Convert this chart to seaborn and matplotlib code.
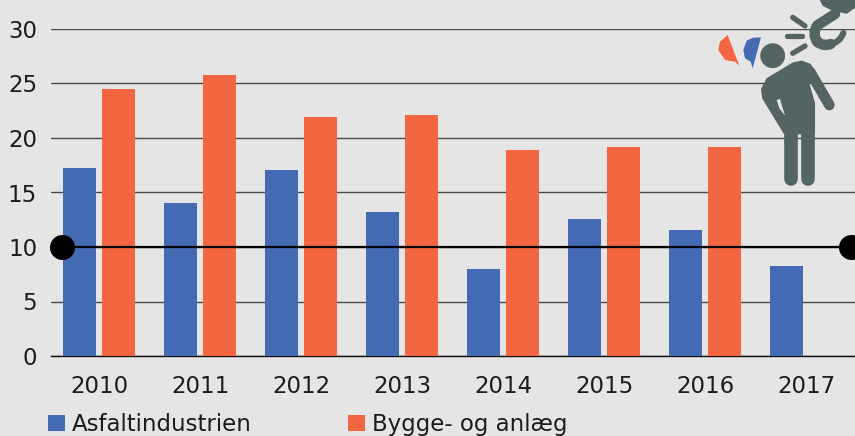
import numpy as np
import pandas as pd
import matplotlib
matplotlib.use('Agg')
import matplotlib.pyplot as plt
import seaborn as sns
from matplotlib.patches import Circle, Polygon, PathPatch
from matplotlib.path import Path

years = ['2010', '2011', '2012', '2013', '2014', '2015', '2016', '2017']
asfalt = [17.25, 14.0, 17.05, 13.2, 8.0, 12.6, 11.55, 8.25]
bygge = [24.5, 25.8, 21.9, 22.1, 18.9, 19.2, 19.2, np.nan]
series_names = ['Asfaltindustrien', 'Bygge- og anlæg']
y_ticks = [0, 5, 10, 15, 20, 25, 30]
limit_value = 10

BG = '#e5e5e5'
BLUE = '#446ab3'
ORANGE = '#f46641'
ICON = '#536463'
TEXT = '#1c1c1c'

sns.set_theme(style='white')
plt.rcParams['font.family'] = ['DejaVu Sans']

df = pd.DataFrame({'year': years * 2,
                   'value': asfalt + bygge,
                   'series': [series_names[0]] * 8 + [series_names[1]] * 8})

fig = plt.figure(figsize=(8.55, 4.36), dpi=100, facecolor=BG)
ax = fig.add_axes([51 / 855, 1 - 356 / 436, 804 / 855, 327 / 436], facecolor=BG)

sns.barplot(data=df, x='year', y='value', hue='series', ax=ax,
            palette=[BLUE, ORANGE], width=0.772, gap=0.14, saturation=1,
            errorbar=None, zorder=3, linewidth=0)

ax.set_xlim(-48 / 101, 756 / 101)
ax.set_ylim(0, 30)
ax.set_xlabel('')
ax.set_ylabel('')
ax.set_yticks(y_ticks)
ax.grid(axis='y', color='#4a4a4a', lw=1, zorder=1)
ax.set_axisbelow(True)
for name, spine in ax.spines.items():
    spine.set_visible(name == 'bottom')
ax.spines['bottom'].set_color('#111111')
ax.spines['bottom'].set_linewidth(1)
ax.tick_params(axis='x', length=0, pad=14, labelsize=16.5, labelcolor=TEXT)
ax.tick_params(axis='y', length=0, pad=10, labelsize=16.5, labelcolor=TEXT)

# limit line with round end points
ax.plot([-37 / 101, 752 / 101], [limit_value, limit_value], color='black', lw=1.6,
        marker='o', ms=17, clip_on=False, zorder=5)

handles, labels = ax.get_legend_handles_labels()
ax.legend(handles, labels, ncol=2, loc='lower left', bbox_to_anchor=(48 / 855, 0),
          bbox_transform=fig.transFigure, frameon=False, fontsize=16.5, labelcolor=TEXT,
          handlelength=0.74, handleheight=0.74, handletextpad=0.3, columnspacing=4.2,
          borderpad=0, borderaxespad=0)

# icon, drawn on an overlay in pixel units of the zoomed crop
ov = fig.add_axes([0, 0, 1, 1], facecolor='none')
ov.set_xlim(0, 855)
ov.set_ylim(436, 0)
ov.axis('off')


def pts(coords):
    return [(680 + x / 3, y / 3) for x, y in coords]


def stroke(coords, lw):
    xs, ys = zip(*pts(coords))
    ov.plot(xs, ys, color=ICON, lw=lw, solid_capstyle='round')


torso = [(246, 268), (262, 237), (340, 190), (365, 185), (390, 194), (408, 225), (385, 250),
         (402, 310), (402, 400), (314, 400), (250, 295)]
hole = [(290, 300), (300, 297), (315, 347), (298, 325)]
orange_bubble = [(143, 105), (178, 197), (165, 185), (135, 180), (115, 150), (120, 125)]
blue_bubble = [(243, 112), (218, 205), (212, 185), (195, 175), (190, 150), (200, 122), (220, 113)]
hook_block = [(423, 0), (525, 0), (525, 20), (500, 38), (460, 30), (430, 15)]

ov.add_patch(Polygon(pts(torso), fc=ICON, ec=ICON, lw=1.5, joinstyle='round'))
stroke([(333, 385), (333, 537)], 9.8)
stroke([(384, 385), (384, 537)], 9.8)
stroke([(390, 215), (448, 315)], 7.7)
ov.add_patch(Polygon(pts(hole), color=BG, lw=0))
ov.add_patch(Circle(pts([(278, 167)])[0], 12.4, color=ICON, lw=0))
ov.add_patch(Polygon(pts(orange_bubble), color=ORANGE, lw=0))
ov.add_patch(Polygon(pts(blue_bubble), color=BLUE, lw=0))
ov.add_patch(Polygon(pts(hook_block), fc=ICON, ec=ICON, lw=1.5, joinstyle='round'))

shank = Path(pts([(465, 42), (412, 76), (395, 100), (412, 126), (432, 140), (452, 132)]),
             [Path.MOVETO, Path.LINETO, Path.CURVE3, Path.CURVE3, Path.CURVE3, Path.CURVE3])
tip = Path(pts([(445, 135), (480, 128), (490, 99)]), [Path.MOVETO, Path.CURVE3, Path.CURVE3])
ov.add_patch(PathPatch(shank, fc='none', ec=ICON, lw=7.5, capstyle='round'))
ov.add_patch(PathPatch(tip, fc='none', ec=ICON, lw=4.5, capstyle='round'))
for seg in [[(338, 52), (375, 78)], [(322, 108), (365, 108)], [(338, 160), (375, 138)]]:
    stroke(seg, 3.8)

fig.savefig('out.png', dpi=100, facecolor=BG)
